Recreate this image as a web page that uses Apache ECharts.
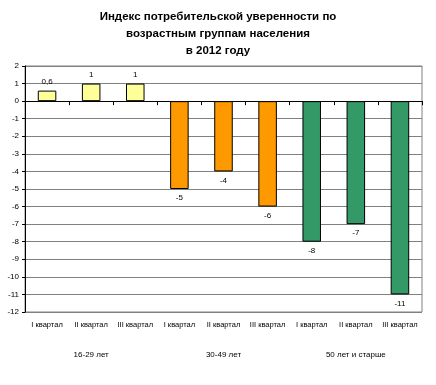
<!DOCTYPE html>
<html><head><meta charset="utf-8">
<script src="https://cdn.jsdelivr.net/npm/echarts@6/dist/echarts.min.js"></script>
<style>html,body{margin:0;padding:0;background:#fff}#c{width:436px;height:385px}</style>
</head><body><div id="c"></div>
<script>
const titleText = 'Индекс потребительской уверенности по\nвозрастным группам населения\nв 2012 году';
const quarters = ['I квартал','II квартал','III квартал','I квартал','II квартал','III квартал','I квартал','II квартал','III квартал'];
const groups = ['16-29 лет','30-49 лет','50 лет и старше'];
const values = [0.6, 1, 1, -5, -4, -6, -8, -7, -11];
const groupOf = [0,0,0,1,1,1,2,2,2];
const yTicks = {min: -12, max: 2, interval: 1};
const groupColors = ['#FFFF99','#FF9900','#339966'];

const font = 'Liberation Sans, Arial, sans-serif';
const chart = echarts.init(document.getElementById('c'));
const cats = quarters.map((q,i)=>i+'|'+q);
chart.setOption({
  animation:false,
  title:{text:titleText,left:'center',top:3,textStyle:{fontFamily:font,fontSize:11.5,fontWeight:'bold',color:'#000',lineHeight:17}},
  grid:{left:25,right:14,top:66,bottom:73,show:true,borderColor:'#808080',borderWidth:1},
  xAxis:[
    {type:'category',data:cats,position:'bottom',
     axisLine:{onZero:true,lineStyle:{color:'#000',width:1}},
     axisTick:{show:true,interval:0,length:4,lineStyle:{color:'#000'}},
     axisLabel:{show:false}},
    {type:'category',data:cats,position:'bottom',
     axisLine:{show:false,onZero:false},axisTick:{show:false},
     axisLabel:{interval:0,margin:9,fontFamily:font,fontSize:7.5,color:'#000',formatter:v=>v.split('|')[1]}},
    {type:'category',data:groups,position:'bottom',offset:30,
     axisLine:{show:false,onZero:false},axisTick:{show:false},
     axisLabel:{interval:0,margin:9,fontFamily:font,fontSize:8,color:'#000'}}
  ],
  yAxis:{type:'value',min:yTicks.min,max:yTicks.max,interval:yTicks.interval,
    axisLine:{show:true,lineStyle:{color:'#000'}},
    axisTick:{show:true,length:3,lineStyle:{color:'#000'}},
    axisLabel:{fontFamily:font,fontSize:8,color:'#000',margin:6},
    splitLine:{lineStyle:{color:'#808080',width:1}}},
  series:[{
    type:'bar',xAxisIndex:0,barWidth:'42%',
    data:values.map((v,i)=>({value:v,
      itemStyle:{color:groupColors[groupOf[i]],borderColor:'#000',borderWidth:1},
      label:{position:v>=0?'top':'bottom'}})),
    label:{show:true,distance:5,fontFamily:font,fontSize:8,color:'#000',
      formatter:p=>String(p.value).replace('.',',')}
  }]
});
</script></body></html>
